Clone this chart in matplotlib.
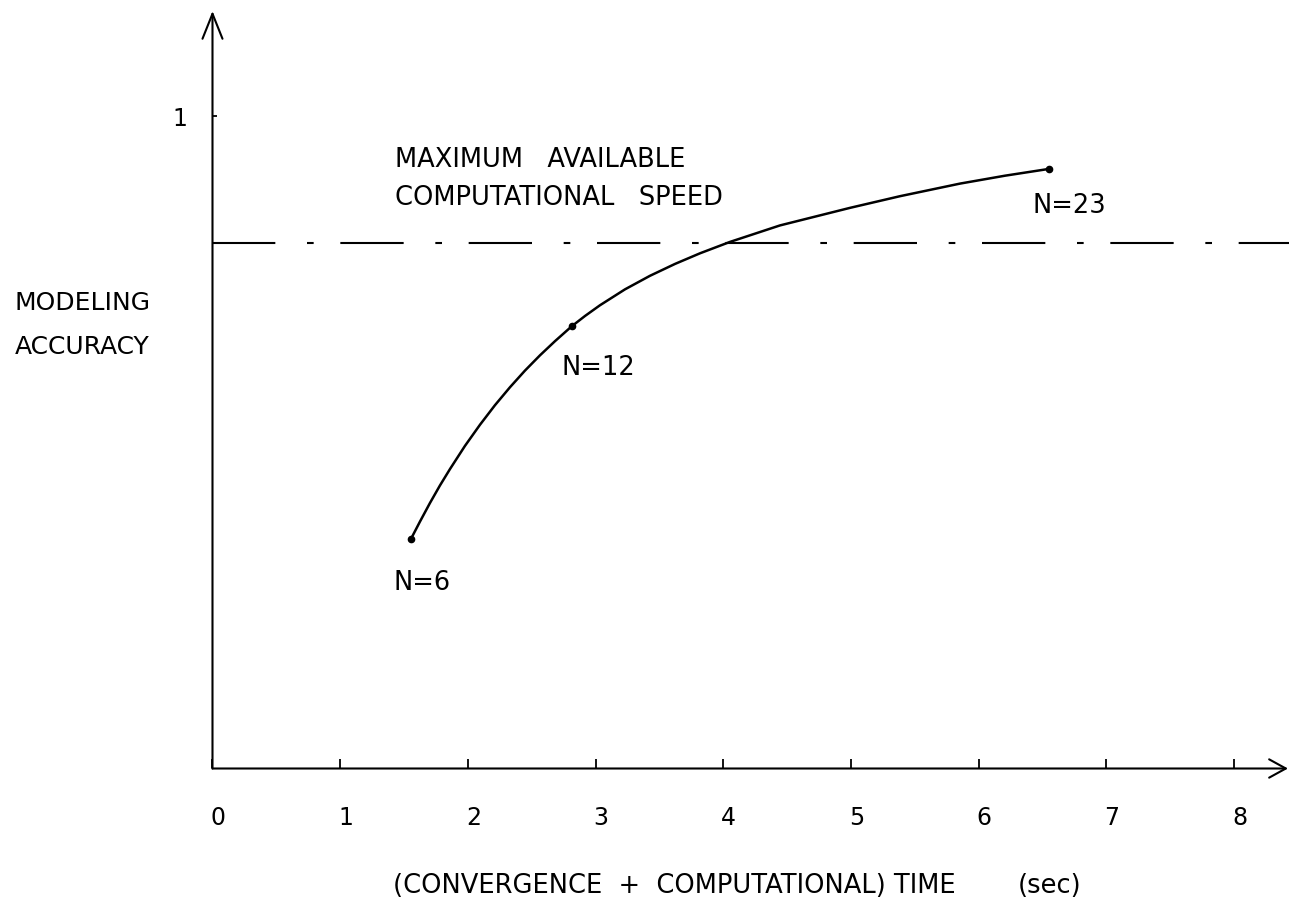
import matplotlib
matplotlib.use('Agg')
import matplotlib.pyplot as plt
from matplotlib.transforms import ScaledTranslation

plt.rcParams['font.family'] = 'DejaVu Sans'
plt.rcParams['lines.scale_dashes'] = False

# Curva: tiempo total (convergencia + calculo) contra precision del modelo
tiempo = [1.552, 1.625, 1.703, 1.781, 1.860, 1.977, 2.095, 2.212, 2.330,
          2.447, 2.565, 2.682, 2.813, 2.917, 3.034, 3.230, 3.426, 3.622,
          3.818, 4.052, 4.444, 4.992, 5.384, 5.854, 6.206, 6.550]
precision = [0.351, 0.3785, 0.4069, 0.4337, 0.4590, 0.4944, 0.5269, 0.5568,
             0.5844, 0.6098, 0.6333, 0.6549, 0.6777, 0.6935, 0.7099, 0.7343,
             0.7551, 0.7733, 0.7896, 0.8070, 0.8323, 0.8592, 0.8771, 0.8964,
             0.9085, 0.9189]

# Puntos marcados con el orden del modelo
etiquetas_n = ['N=6', 'N=12', 'N=23']
tiempo_n = [1.552, 2.813, 6.550]
precision_n = [0.351, 0.6777, 0.9189]

# Velocidad de calculo maxima disponible
velocidad_max = 0.805

ticks_x = [0, 1, 2, 3, 4, 5, 6, 7, 8]
ticks_y = [1]

fig = plt.figure(figsize=(12.89, 9.03), dpi=100)
ax = fig.add_axes([0, 0, 1, 1])
ax.set_xlim(-1.664, 8.43)
ax.set_ylim(-0.2046, 1.1793)

# Ejes en el origen, dibujados como flechas
for lado in ['top', 'right']:
    ax.spines[lado].set_visible(False)
ax.spines['left'].set_position(('data', 0))
ax.spines['bottom'].set_position(('data', 0))
ax.spines['left'].set_visible(False)
ax.spines['bottom'].set_visible(False)

ax.annotate('', xy=(8.422, 0), xytext=(0, 0),
            arrowprops=dict(arrowstyle='->,head_length=0.6,head_width=0.33',
                            lw=1.5, color='black', mutation_scale=20,
                            shrinkA=0, shrinkB=0))
ax.annotate('', xy=(0, 1.161), xytext=(0, 0),
            arrowprops=dict(arrowstyle='->,head_length=0.9,head_width=0.36',
                            lw=1.5, color='black', mutation_scale=20,
                            shrinkA=0, shrinkB=0))

ax.set_xticks(ticks_x)
ax.set_yticks(ticks_y)
ax.set_xticklabels([str(t) for t in ticks_x])
ax.set_yticklabels([str(t) for t in ticks_y])
ax.tick_params(axis='x', direction='in', length=6.5, width=1.3, pad=26, labelsize=17)
ax.tick_params(axis='y', direction='in', length=3.6, width=1.3, pad=18, labelsize=17)
desplaza = ScaledTranslation(4 / 72, 0, fig.dpi_scale_trans)
for lbl in ax.get_xticklabels():
    lbl.set_transform(lbl.get_transform() + desplaza)

# Linea de trazo y punto para el limite de velocidad
ax.plot([0, 8.43], [velocidad_max, velocidad_max], color='black', lw=1.5,
        linestyle=(0, (45.6, 22.8, 4.8, 19.2)), dash_capstyle='butt')

# Curva de precision
ax.plot(tiempo, precision, color='black', lw=1.8, solid_capstyle='round',
        solid_joinstyle='round')
ax.plot(tiempo_n, precision_n, 'o', color='black', markersize=4.5)

desfases = [(-12.7, -35.5), (-7.2, -34.3), (-11.7, -30.7)]
for txt, x, y, d in zip(etiquetas_n, tiempo_n, precision_n, desfases):
    ax.annotate(txt, xy=(x, y), xytext=d, textcoords='offset points',
                ha='left', va='baseline', fontsize=18.5)

ax.text(1.429, 0.9234, 'MAXIMUM   AVAILABLE', fontsize=18.5, ha='left', va='baseline')
ax.text(1.429, 0.8651, 'COMPUTATIONAL   SPEED', fontsize=18.5, ha='left', va='baseline')
ax.text(-1.547, 0.7042, 'MODELING', fontsize=18, ha='left', va='baseline')
ax.text(-1.547, 0.6368, 'ACCURACY', fontsize=18, ha='left', va='baseline')
ax.text(1.413, -0.1785, '(CONVERGENCE  +  COMPUTATIONAL) TIME', fontsize=18.5,
        ha='left', va='center')
ax.text(6.304, -0.1785, '(sec)', fontsize=18.5, ha='left', va='center')

fig.savefig('out.png', dpi=100)
